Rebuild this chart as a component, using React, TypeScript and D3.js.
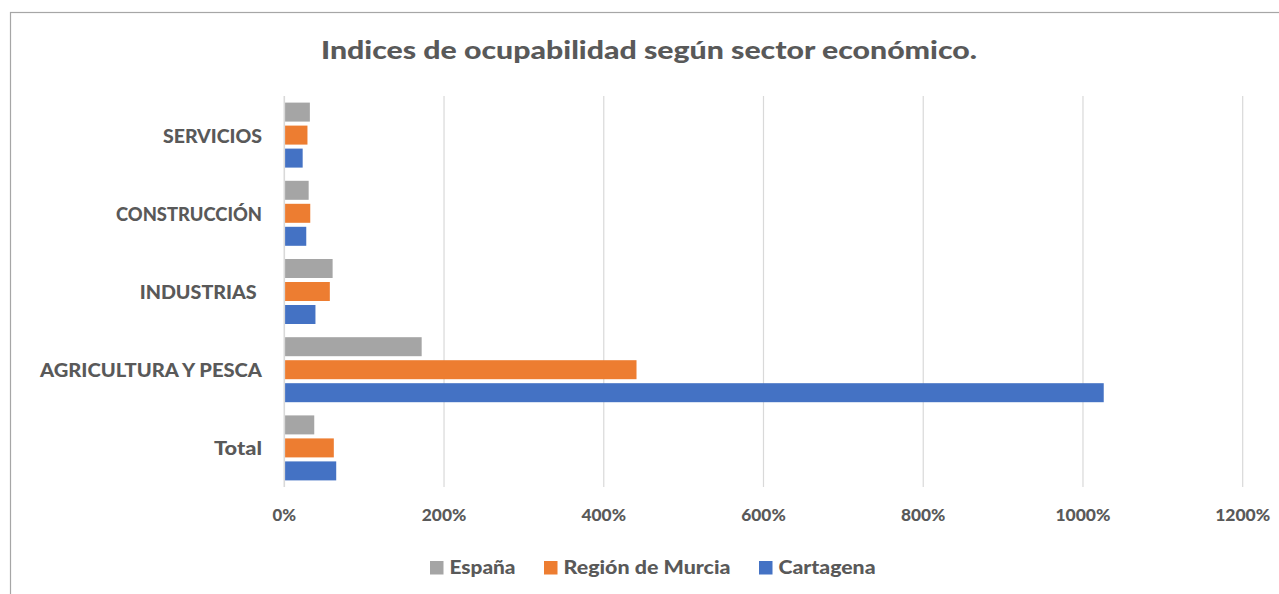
import React, { useEffect, useRef } from "react";
import * as d3 from "d3";

const categories = ["SERVICIOS", "CONSTRUCCIÓN", "INDUSTRIAS ", "AGRICULTURA Y PESCA", "Total"];
const seriesNames = ["España", "Región de Murcia", "Cartagena"];
const espana = [32, 30.5, 60.5, 172, 37.5];
const murcia = [29, 32.5, 57, 441, 62];
const cartagena = [23, 27.5, 39, 1026, 65];
const ticks = [0, 200, 400, 600, 800, 1000, 1200];
const colors = ["#A5A5A5", "#ED7D31", "#4472C4"];

const FONT = "Lato, 'Open Sans', sans-serif";
const TEXT = "#595959";

export default function App() {
  const ref = useRef<SVGSVGElement>(null);
  useEffect(() => {
    const svg = d3.select(ref.current);
    svg.selectAll("*").remove();
    const W = 1279, H = 594;
    svg.append("rect").attr("x", 0).attr("y", 0).attr("width", W).attr("height", H).attr("fill", "#fff");
    // chart border
    svg.append("rect").attr("x", 10.5).attr("y", 12.5).attr("width", 1290).attr("height", 600)
      .attr("fill", "none").attr("stroke", "#a6a6a6").attr("stroke-width", 1.2);

    const x = d3.scaleLinear().domain([0, 1200]).range([284.3, 1242.7]);
    const y = d3.scaleBand<string>().domain(categories).range([96, 487]).paddingInner(0).paddingOuter(0);
    const inner = d3.scaleBand<string>().domain(seriesNames).range([0, y.bandwidth()])
      .paddingInner(0.174).paddingOuter(0.287);

    // title
    svg.append("text").attr("x", 649).attr("y", 59).attr("text-anchor", "middle")
      .attr("font-family", FONT).attr("font-weight", 900).attr("font-size", 25)
      .attr("fill", TEXT).attr("textLength", 656).attr("lengthAdjust", "spacingAndGlyphs")
      .text("Indices de ocupabilidad según sector económico.");

    // gridlines
    svg.append("g").selectAll("line").data(ticks).join("line")
      .attr("x1", d => x(d)).attr("x2", d => x(d)).attr("y1", 96).attr("y2", 487)
      .attr("stroke", "#d9d9d9").attr("stroke-width", d => (d === 0 ? 1.6 : 1.2));

    const data = [espana, murcia, cartagena];
    const g = svg.append("g");
    seriesNames.forEach((s, si) => {
      g.append("g").selectAll("rect").data(categories).join("rect")
        .attr("x", x(0) + 0.8)
        .attr("y", c => (y(c) as number) + (inner(s) as number))
        .attr("width", (c, i) => x(data[si][i]) - x(0) - 0.8)
        .attr("height", inner.bandwidth())
        .attr("fill", colors[si]);
    });

    // category labels
    const labelWidths = [99, 146, 117, 222, 48];
    svg.append("g").selectAll("text").data(categories).join("text")
      .attr("x", (c, i) => (i === 2 ? 256.7 : 262))
      .attr("y", c => (y(c) as number) + y.bandwidth() / 2 + 7.5)
      .attr("text-anchor", "end")
      .attr("font-family", FONT).attr("font-weight", 900).attr("font-size", 18)
      .attr("fill", TEXT)
      .attr("textLength", (c, i) => labelWidths[i]).attr("lengthAdjust", "spacingAndGlyphs")
      .text(c => c.trim());

    // tick labels
    svg.append("g").selectAll("text").data(ticks).join("text")
      .attr("x", d => x(d)).attr("y", 521).attr("text-anchor", "middle")
      .attr("font-family", FONT).attr("font-weight", 900).attr("font-size", 17.5)
      .attr("fill", TEXT)
      .attr("textLength", d => 10.5 * String(d).length + 13).attr("lengthAdjust", "spacingAndGlyphs")
      .text(d => d + "%");

    // legend
    const legendX = [430, 544, 759];
    const legendW = [66, 167, 97];
    const lg = svg.append("g");
    seriesNames.forEach((s, i) => {
      lg.append("rect").attr("x", legendX[i]).attr("y", 561).attr("width", 13.5).attr("height", 13.5).attr("fill", colors[i]);
      lg.append("text").attr("x", legendX[i] + 19.5).attr("y", 574.3)
        .attr("font-family", FONT).attr("font-weight", 900).attr("font-size", 18.5)
        .attr("fill", TEXT).attr("textLength", legendW[i]).attr("lengthAdjust", "spacingAndGlyphs")
        .text(s);
    });
  }, []);
  return (
    <div style={{ position: "absolute", left: 0, top: 0 }}>
      <svg ref={ref} width={1279} height={594} style={{ display: "block" }} />
    </div>
  );
}
